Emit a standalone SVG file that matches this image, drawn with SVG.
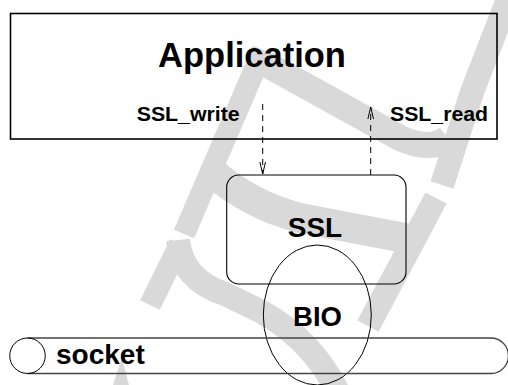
<svg xmlns="http://www.w3.org/2000/svg" width="508" height="385" viewBox="0 0 508 385">
<style>
.wm{fill:none;stroke:#d9d9d9;stroke-linecap:butt;stroke-linejoin:round}
.box{fill:none;stroke:#000}
.lbl{font-family:"Liberation Sans",Arial,Helvetica,sans-serif;font-weight:bold;fill:#000}
.dash{fill:none;stroke:#000;stroke-width:1;stroke-dasharray:6 5}
</style>
<defs>
<marker id="vhead" viewBox="-13 -4 14 8" refX="0" refY="0" markerWidth="14" markerHeight="8" markerUnits="userSpaceOnUse" orient="auto">
<path d="M -12,-2.8 L 0,0 L -12,2.8" fill="none" stroke="#000" stroke-width="1" stroke-dasharray="none"/>
</marker>
</defs>
<g id="watermark">
<path class="wm" stroke-width="22" d="M 263,50 L 184,234"/>
<path class="wm" stroke-width="22" d="M 180,244 L 150,305"/>
<path class="wm" stroke-width="26" d="M 266,64 L 400,138 Q 430,152 448,138"/>
<path class="wm" stroke-width="24" d="M 510,-6 L 472,92 L 442,185"/>
<path class="wm" stroke-width="24" d="M 436,198 L 418,232 L 368,326"/>
<path class="wm" stroke-width="30" d="M 212,172 Q 250,205 300,218 L 415,240"/>
<path class="wm" stroke-width="24" d="M 178,240 Q 182,280 225,294 L 262,312 Q 312,340 338,392"/>
<polygon fill="#d9d9d9" points="122,358 129,385 113,385"/>
</g>
<g id="application">
<rect class="box" x="10.5" y="13.5" width="486.5" height="125.5" stroke-width="1.6"/>
<text class="lbl" x="252" y="67" font-size="34.5" text-anchor="middle">Application</text>
<text class="lbl" x="136.7" y="121" font-size="20" textLength="103" lengthAdjust="spacingAndGlyphs">SSL_write</text>
<text class="lbl" x="390" y="121" font-size="20" textLength="98" lengthAdjust="spacingAndGlyphs">SSL_read</text>
</g>
<g id="ssl">
<rect class="box" x="226.7" y="175" width="179.3" height="109" rx="12" ry="12" stroke-width="1.1"/>
<text class="lbl" x="315" y="237" font-size="28" text-anchor="middle">SSL</text>
</g>
<g id="bio">
<ellipse class="box" cx="317.3" cy="315" rx="54" ry="70" stroke-width="1"/>
<text class="lbl" x="317.5" y="326" font-size="27.5" text-anchor="middle">BIO</text>
</g>
<g id="socket">
<path fill="none" stroke="#444" stroke-width="1.4" d="M 27.5,338 L 492,338 A 17.8,17.8 0 0 1 492,373.5 L 27.5,373.5"/>
<circle class="box" cx="27.5" cy="355.75" r="17.75" stroke-width="1"/>
<text class="lbl" x="56" y="364" font-size="28">socket</text>
</g>
<g id="connectors">
<path class="dash" d="M 262.7,104 L 262.7,174" marker-end="url(#vhead)"/>
<path class="dash" d="M 370.7,175 L 370.7,107" marker-end="url(#vhead)"/>
</g>
</svg>
